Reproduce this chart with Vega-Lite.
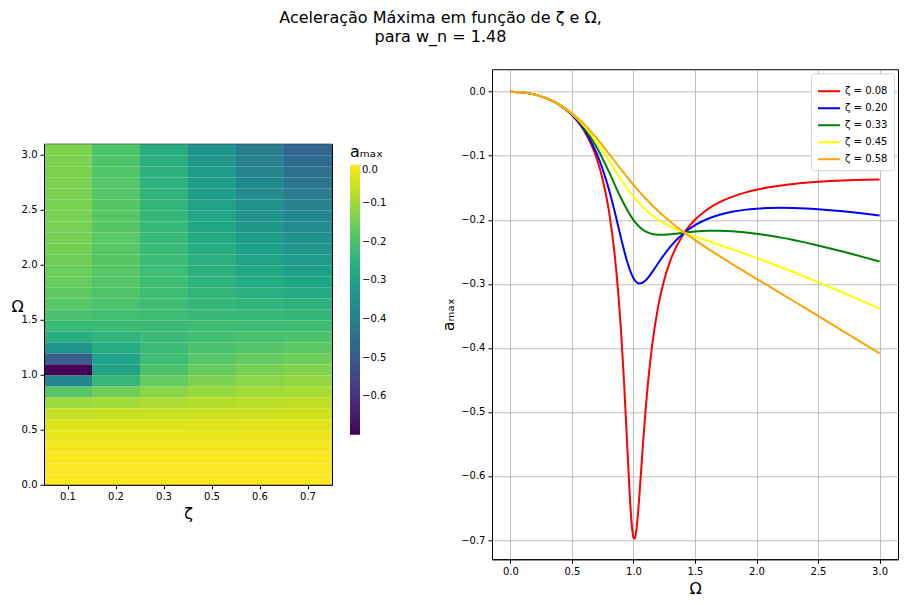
{
  "$schema": "https://vega.github.io/schema/vega-lite/v6.json",
  "padding": {"left": 10, "top": 9, "right": 5, "bottom": 0},
  "background": "white",
  "title": {
    "text": ["Aceleração Máxima em função de ζ e Ω,", "para w_n = 1.48"],
    "fontSize": 16,
    "fontWeight": "normal",
    "anchor": "middle",
    "dx": -14,
    "offset": 24,
    "lineHeight": 19
  },
  "datasets": {
    "amax": [
      {"zeta": 0.08, "omega": 0, "a_max": 0, "kind": "grid"},
      {"zeta": 0.08, "omega": 0.1, "a_max": -0.0011, "kind": "grid"},
      {"zeta": 0.08, "omega": 0.2, "a_max": -0.00458, "kind": "grid"},
      {"zeta": 0.08, "omega": 0.3, "a_max": -0.01088, "kind": "grid"},
      {"zeta": 0.08, "omega": 0.4, "a_max": -0.02094, "kind": "grid"},
      {"zeta": 0.08, "omega": 0.5, "a_max": -0.03658, "kind": "grid"},
      {"zeta": 0.08, "omega": 0.6, "a_max": -0.06147, "kind": "grid"},
      {"zeta": 0.08, "omega": 0.7, "a_max": -0.10387, "kind": "grid"},
      {"zeta": 0.08, "omega": 0.8, "a_max": -0.18576, "kind": "grid"},
      {"zeta": 0.08, "omega": 0.9, "a_max": -0.37759, "kind": "grid"},
      {"zeta": 0.08, "omega": 1.0, "a_max": -0.69625, "kind": "grid"},
      {"zeta": 0.08, "omega": 1.1, "a_max": -0.49323, "kind": "grid"},
      {"zeta": 0.08, "omega": 1.2, "a_max": -0.33598, "kind": "grid"},
      {"zeta": 0.08, "omega": 1.3, "a_max": -0.26347, "kind": "grid"},
      {"zeta": 0.08, "omega": 1.4, "a_max": -0.22413, "kind": "grid"},
      {"zeta": 0.08, "omega": 1.5, "a_max": -0.19997, "kind": "grid"},
      {"zeta": 0.08, "omega": 1.6, "a_max": -0.18388, "kind": "grid"},
      {"zeta": 0.08, "omega": 1.7, "a_max": -0.17253, "kind": "grid"},
      {"zeta": 0.08, "omega": 1.8, "a_max": -0.16422, "kind": "grid"},
      {"zeta": 0.08, "omega": 1.9, "a_max": -0.15795, "kind": "grid"},
      {"zeta": 0.08, "omega": 2.0, "a_max": -0.15312, "kind": "grid"},
      {"zeta": 0.08, "omega": 2.1, "a_max": -0.14935, "kind": "grid"},
      {"zeta": 0.08, "omega": 2.2, "a_max": -0.14637, "kind": "grid"},
      {"zeta": 0.08, "omega": 2.3, "a_max": -0.14401, "kind": "grid"},
      {"zeta": 0.08, "omega": 2.4, "a_max": -0.14212, "kind": "grid"},
      {"zeta": 0.08, "omega": 2.5, "a_max": -0.14063, "kind": "grid"},
      {"zeta": 0.08, "omega": 2.6, "a_max": -0.13946, "kind": "grid"},
      {"zeta": 0.08, "omega": 2.7, "a_max": -0.13855, "kind": "grid"},
      {"zeta": 0.08, "omega": 2.8, "a_max": -0.13786, "kind": "grid"},
      {"zeta": 0.08, "omega": 2.9, "a_max": -0.13736, "kind": "grid"},
      {"zeta": 0.08, "omega": 3.0, "a_max": -0.13702, "kind": "grid"},
      {"zeta": 0.08, "omega": 0.75, "a_max": -0.13737, "kind": "fine"},
      {"zeta": 0.08, "omega": 0.85, "a_max": -0.25954, "kind": "fine"},
      {"zeta": 0.08, "omega": 0.88, "a_max": -0.32348, "kind": "fine"},
      {"zeta": 0.08, "omega": 0.92, "a_max": -0.44234, "kind": "fine"},
      {"zeta": 0.08, "omega": 0.94, "a_max": -0.51681, "kind": "fine"},
      {"zeta": 0.08, "omega": 0.96, "a_max": -0.59475, "kind": "fine"},
      {"zeta": 0.08, "omega": 0.98, "a_max": -0.66121, "kind": "fine"},
      {"zeta": 0.08, "omega": 0.99, "a_max": -0.68373, "kind": "fine"},
      {"zeta": 0.08, "omega": 1.01, "a_max": -0.698, "kind": "fine"},
      {"zeta": 0.08, "omega": 1.02, "a_max": -0.68971, "kind": "fine"},
      {"zeta": 0.08, "omega": 1.04, "a_max": -0.6508, "kind": "fine"},
      {"zeta": 0.08, "omega": 1.06, "a_max": -0.59736, "kind": "fine"},
      {"zeta": 0.08, "omega": 1.08, "a_max": -0.54276, "kind": "fine"},
      {"zeta": 0.08, "omega": 1.15, "a_max": -0.39837, "kind": "fine"},
      {"zeta": 0.08, "omega": 1.25, "a_max": -0.2936, "kind": "fine"},
      {"zeta": 0.204, "omega": 0, "a_max": 0, "kind": "grid"},
      {"zeta": 0.204, "omega": 0.1, "a_max": -0.0011, "kind": "grid"},
      {"zeta": 0.204, "omega": 0.2, "a_max": -0.00458, "kind": "grid"},
      {"zeta": 0.204, "omega": 0.3, "a_max": -0.01086, "kind": "grid"},
      {"zeta": 0.204, "omega": 0.4, "a_max": -0.02084, "kind": "grid"},
      {"zeta": 0.204, "omega": 0.5, "a_max": -0.03611, "kind": "grid"},
      {"zeta": 0.204, "omega": 0.6, "a_max": -0.0595, "kind": "grid"},
      {"zeta": 0.204, "omega": 0.7, "a_max": -0.0959, "kind": "grid"},
      {"zeta": 0.204, "omega": 0.8, "a_max": -0.1524, "kind": "grid"},
      {"zeta": 0.204, "omega": 0.9, "a_max": -0.22958, "kind": "grid"},
      {"zeta": 0.204, "omega": 1.0, "a_max": -0.29119, "kind": "grid"},
      {"zeta": 0.204, "omega": 1.1, "a_max": -0.29443, "kind": "grid"},
      {"zeta": 0.204, "omega": 1.2, "a_max": -0.26793, "kind": "grid"},
      {"zeta": 0.204, "omega": 1.3, "a_max": -0.24179, "kind": "grid"},
      {"zeta": 0.204, "omega": 1.4, "a_max": -0.22227, "kind": "grid"},
      {"zeta": 0.204, "omega": 1.5, "a_max": -0.20849, "kind": "grid"},
      {"zeta": 0.204, "omega": 1.6, "a_max": -0.19886, "kind": "grid"},
      {"zeta": 0.204, "omega": 1.7, "a_max": -0.19217, "kind": "grid"},
      {"zeta": 0.204, "omega": 1.8, "a_max": -0.18758, "kind": "grid"},
      {"zeta": 0.204, "omega": 1.9, "a_max": -0.18454, "kind": "grid"},
      {"zeta": 0.204, "omega": 2.0, "a_max": -0.18266, "kind": "grid"},
      {"zeta": 0.204, "omega": 2.1, "a_max": -0.18169, "kind": "grid"},
      {"zeta": 0.204, "omega": 2.2, "a_max": -0.18142, "kind": "grid"},
      {"zeta": 0.204, "omega": 2.3, "a_max": -0.18172, "kind": "grid"},
      {"zeta": 0.204, "omega": 2.4, "a_max": -0.18248, "kind": "grid"},
      {"zeta": 0.204, "omega": 2.5, "a_max": -0.18362, "kind": "grid"},
      {"zeta": 0.204, "omega": 2.6, "a_max": -0.18509, "kind": "grid"},
      {"zeta": 0.204, "omega": 2.7, "a_max": -0.18683, "kind": "grid"},
      {"zeta": 0.204, "omega": 2.8, "a_max": -0.18881, "kind": "grid"},
      {"zeta": 0.204, "omega": 2.9, "a_max": -0.19099, "kind": "grid"},
      {"zeta": 0.204, "omega": 3.0, "a_max": -0.19334, "kind": "grid"},
      {"zeta": 0.204, "omega": 0.85, "a_max": -0.18939, "kind": "fine"},
      {"zeta": 0.204, "omega": 0.95, "a_max": -0.2664, "kind": "fine"},
      {"zeta": 0.204, "omega": 1.05, "a_max": -0.29952, "kind": "fine"},
      {"zeta": 0.204, "omega": 1.15, "a_max": -0.28224, "kind": "fine"},
      {"zeta": 0.328, "omega": 0, "a_max": 0, "kind": "grid"},
      {"zeta": 0.328, "omega": 0.1, "a_max": -0.0011, "kind": "grid"},
      {"zeta": 0.328, "omega": 0.2, "a_max": -0.00458, "kind": "grid"},
      {"zeta": 0.328, "omega": 0.3, "a_max": -0.01084, "kind": "grid"},
      {"zeta": 0.328, "omega": 0.4, "a_max": -0.02068, "kind": "grid"},
      {"zeta": 0.328, "omega": 0.5, "a_max": -0.03536, "kind": "grid"},
      {"zeta": 0.328, "omega": 0.6, "a_max": -0.05664, "kind": "grid"},
      {"zeta": 0.328, "omega": 0.7, "a_max": -0.08643, "kind": "grid"},
      {"zeta": 0.328, "omega": 0.8, "a_max": -0.12493, "kind": "grid"},
      {"zeta": 0.328, "omega": 0.9, "a_max": -0.16683, "kind": "grid"},
      {"zeta": 0.328, "omega": 1.0, "a_max": -0.20054, "kind": "grid"},
      {"zeta": 0.328, "omega": 1.1, "a_max": -0.2184, "kind": "grid"},
      {"zeta": 0.328, "omega": 1.2, "a_max": -0.22354, "kind": "grid"},
      {"zeta": 0.328, "omega": 1.3, "a_max": -0.22272, "kind": "grid"},
      {"zeta": 0.328, "omega": 1.4, "a_max": -0.22034, "kind": "grid"},
      {"zeta": 0.328, "omega": 1.5, "a_max": -0.21827, "kind": "grid"},
      {"zeta": 0.328, "omega": 1.6, "a_max": -0.21712, "kind": "grid"},
      {"zeta": 0.328, "omega": 1.7, "a_max": -0.21699, "kind": "grid"},
      {"zeta": 0.328, "omega": 1.8, "a_max": -0.21779, "kind": "grid"},
      {"zeta": 0.328, "omega": 1.9, "a_max": -0.21939, "kind": "grid"},
      {"zeta": 0.328, "omega": 2.0, "a_max": -0.22168, "kind": "grid"},
      {"zeta": 0.328, "omega": 2.1, "a_max": -0.22453, "kind": "grid"},
      {"zeta": 0.328, "omega": 2.2, "a_max": -0.22787, "kind": "grid"},
      {"zeta": 0.328, "omega": 2.3, "a_max": -0.23162, "kind": "grid"},
      {"zeta": 0.328, "omega": 2.4, "a_max": -0.23571, "kind": "grid"},
      {"zeta": 0.328, "omega": 2.5, "a_max": -0.2401, "kind": "grid"},
      {"zeta": 0.328, "omega": 2.6, "a_max": -0.24474, "kind": "grid"},
      {"zeta": 0.328, "omega": 2.7, "a_max": -0.2496, "kind": "grid"},
      {"zeta": 0.328, "omega": 2.8, "a_max": -0.25466, "kind": "grid"},
      {"zeta": 0.328, "omega": 2.9, "a_max": -0.25989, "kind": "grid"},
      {"zeta": 0.328, "omega": 3.0, "a_max": -0.26527, "kind": "grid"},
      {"zeta": 0.452, "omega": 0, "a_max": 0, "kind": "grid"},
      {"zeta": 0.452, "omega": 0.1, "a_max": -0.0011, "kind": "grid"},
      {"zeta": 0.452, "omega": 0.2, "a_max": -0.00458, "kind": "grid"},
      {"zeta": 0.452, "omega": 0.3, "a_max": -0.0108, "kind": "grid"},
      {"zeta": 0.452, "omega": 0.4, "a_max": -0.02047, "kind": "grid"},
      {"zeta": 0.452, "omega": 0.5, "a_max": -0.03446, "kind": "grid"},
      {"zeta": 0.452, "omega": 0.6, "a_max": -0.0537, "kind": "grid"},
      {"zeta": 0.452, "omega": 0.7, "a_max": -0.07848, "kind": "grid"},
      {"zeta": 0.452, "omega": 0.8, "a_max": -0.10755, "kind": "grid"},
      {"zeta": 0.452, "omega": 0.9, "a_max": -0.13748, "kind": "grid"},
      {"zeta": 0.452, "omega": 1.0, "a_max": -0.16403, "kind": "grid"},
      {"zeta": 0.452, "omega": 1.1, "a_max": -0.18469, "kind": "grid"},
      {"zeta": 0.452, "omega": 1.2, "a_max": -0.19964, "kind": "grid"},
      {"zeta": 0.452, "omega": 1.3, "a_max": -0.2105, "kind": "grid"},
      {"zeta": 0.452, "omega": 1.4, "a_max": -0.21892, "kind": "grid"},
      {"zeta": 0.452, "omega": 1.5, "a_max": -0.22611, "kind": "grid"},
      {"zeta": 0.452, "omega": 1.6, "a_max": -0.23276, "kind": "grid"},
      {"zeta": 0.452, "omega": 1.7, "a_max": -0.23928, "kind": "grid"},
      {"zeta": 0.452, "omega": 1.8, "a_max": -0.24586, "kind": "grid"},
      {"zeta": 0.452, "omega": 1.9, "a_max": -0.2526, "kind": "grid"},
      {"zeta": 0.452, "omega": 2.0, "a_max": -0.25954, "kind": "grid"},
      {"zeta": 0.452, "omega": 2.1, "a_max": -0.2667, "kind": "grid"},
      {"zeta": 0.452, "omega": 2.2, "a_max": -0.27406, "kind": "grid"},
      {"zeta": 0.452, "omega": 2.3, "a_max": -0.28162, "kind": "grid"},
      {"zeta": 0.452, "omega": 2.4, "a_max": -0.28935, "kind": "grid"},
      {"zeta": 0.452, "omega": 2.5, "a_max": -0.29726, "kind": "grid"},
      {"zeta": 0.452, "omega": 2.6, "a_max": -0.30531, "kind": "grid"},
      {"zeta": 0.452, "omega": 2.7, "a_max": -0.3135, "kind": "grid"},
      {"zeta": 0.452, "omega": 2.8, "a_max": -0.32181, "kind": "grid"},
      {"zeta": 0.452, "omega": 2.9, "a_max": -0.33024, "kind": "grid"},
      {"zeta": 0.452, "omega": 3.0, "a_max": -0.33876, "kind": "grid"},
      {"zeta": 0.576, "omega": 0, "a_max": 0, "kind": "grid"},
      {"zeta": 0.576, "omega": 0.1, "a_max": -0.0011, "kind": "grid"},
      {"zeta": 0.576, "omega": 0.2, "a_max": -0.00457, "kind": "grid"},
      {"zeta": 0.576, "omega": 0.3, "a_max": -0.01076, "kind": "grid"},
      {"zeta": 0.576, "omega": 0.4, "a_max": -0.02023, "kind": "grid"},
      {"zeta": 0.576, "omega": 0.5, "a_max": -0.03356, "kind": "grid"},
      {"zeta": 0.576, "omega": 0.6, "a_max": -0.0511, "kind": "grid"},
      {"zeta": 0.576, "omega": 0.7, "a_max": -0.07257, "kind": "grid"},
      {"zeta": 0.576, "omega": 0.8, "a_max": -0.09676, "kind": "grid"},
      {"zeta": 0.576, "omega": 0.9, "a_max": -0.12176, "kind": "grid"},
      {"zeta": 0.576, "omega": 1.0, "a_max": -0.14566, "kind": "grid"},
      {"zeta": 0.576, "omega": 1.1, "a_max": -0.16727, "kind": "grid"},
      {"zeta": 0.576, "omega": 1.2, "a_max": -0.18629, "kind": "grid"},
      {"zeta": 0.576, "omega": 1.3, "a_max": -0.20302, "kind": "grid"},
      {"zeta": 0.576, "omega": 1.4, "a_max": -0.21799, "kind": "grid"},
      {"zeta": 0.576, "omega": 1.5, "a_max": -0.23169, "kind": "grid"},
      {"zeta": 0.576, "omega": 1.6, "a_max": -0.24455, "kind": "grid"},
      {"zeta": 0.576, "omega": 1.7, "a_max": -0.25684, "kind": "grid"},
      {"zeta": 0.576, "omega": 1.8, "a_max": -0.26879, "kind": "grid"},
      {"zeta": 0.576, "omega": 1.9, "a_max": -0.28054, "kind": "grid"},
      {"zeta": 0.576, "omega": 2.0, "a_max": -0.29216, "kind": "grid"},
      {"zeta": 0.576, "omega": 2.1, "a_max": -0.30372, "kind": "grid"},
      {"zeta": 0.576, "omega": 2.2, "a_max": -0.31527, "kind": "grid"},
      {"zeta": 0.576, "omega": 2.3, "a_max": -0.32683, "kind": "grid"},
      {"zeta": 0.576, "omega": 2.4, "a_max": -0.33841, "kind": "grid"},
      {"zeta": 0.576, "omega": 2.5, "a_max": -0.35002, "kind": "grid"},
      {"zeta": 0.576, "omega": 2.6, "a_max": -0.36168, "kind": "grid"},
      {"zeta": 0.576, "omega": 2.7, "a_max": -0.37337, "kind": "grid"},
      {"zeta": 0.576, "omega": 2.8, "a_max": -0.38511, "kind": "grid"},
      {"zeta": 0.576, "omega": 2.9, "a_max": -0.39689, "kind": "grid"},
      {"zeta": 0.576, "omega": 3.0, "a_max": -0.40872, "kind": "grid"},
      {"zeta": 0.7, "omega": 0, "a_max": 0, "kind": "grid"},
      {"zeta": 0.7, "omega": 0.1, "a_max": -0.0011, "kind": "grid"},
      {"zeta": 0.7, "omega": 0.2, "a_max": -0.00457, "kind": "grid"},
      {"zeta": 0.7, "omega": 0.3, "a_max": -0.01071, "kind": "grid"},
      {"zeta": 0.7, "omega": 0.4, "a_max": -0.01998, "kind": "grid"},
      {"zeta": 0.7, "omega": 0.5, "a_max": -0.03272, "kind": "grid"},
      {"zeta": 0.7, "omega": 0.6, "a_max": -0.04897, "kind": "grid"},
      {"zeta": 0.7, "omega": 0.7, "a_max": -0.06831, "kind": "grid"},
      {"zeta": 0.7, "omega": 0.8, "a_max": -0.08985, "kind": "grid"},
      {"zeta": 0.7, "omega": 0.9, "a_max": -0.11248, "kind": "grid"},
      {"zeta": 0.7, "omega": 1.0, "a_max": -0.13518, "kind": "grid"},
      {"zeta": 0.7, "omega": 1.1, "a_max": -0.15724, "kind": "grid"},
      {"zeta": 0.7, "omega": 1.2, "a_max": -0.17832, "kind": "grid"},
      {"zeta": 0.7, "omega": 1.3, "a_max": -0.19834, "kind": "grid"},
      {"zeta": 0.7, "omega": 1.4, "a_max": -0.21737, "kind": "grid"},
      {"zeta": 0.7, "omega": 1.5, "a_max": -0.23556, "kind": "grid"},
      {"zeta": 0.7, "omega": 1.6, "a_max": -0.25307, "kind": "grid"},
      {"zeta": 0.7, "omega": 1.7, "a_max": -0.27003, "kind": "grid"},
      {"zeta": 0.7, "omega": 1.8, "a_max": -0.28658, "kind": "grid"},
      {"zeta": 0.7, "omega": 1.9, "a_max": -0.30281, "kind": "grid"},
      {"zeta": 0.7, "omega": 2.0, "a_max": -0.31879, "kind": "grid"},
      {"zeta": 0.7, "omega": 2.1, "a_max": -0.33458, "kind": "grid"},
      {"zeta": 0.7, "omega": 2.2, "a_max": -0.35023, "kind": "grid"},
      {"zeta": 0.7, "omega": 2.3, "a_max": -0.36577, "kind": "grid"},
      {"zeta": 0.7, "omega": 2.4, "a_max": -0.38123, "kind": "grid"},
      {"zeta": 0.7, "omega": 2.5, "a_max": -0.39662, "kind": "grid"},
      {"zeta": 0.7, "omega": 2.6, "a_max": -0.41196, "kind": "grid"},
      {"zeta": 0.7, "omega": 2.7, "a_max": -0.42727, "kind": "grid"},
      {"zeta": 0.7, "omega": 2.8, "a_max": -0.44255, "kind": "grid"},
      {"zeta": 0.7, "omega": 2.9, "a_max": -0.4578, "kind": "grid"},
      {"zeta": 0.7, "omega": 3.0, "a_max": -0.47305, "kind": "grid"}
    ]
  },
  "data": {"name": "amax"},
  "spacing": 52,
  "center": true,
  "hconcat": [
    {
      "width": 288,
      "height": 341,
      "transform": [{"filter": "datum.kind == 'grid'"}],
      "mark": {"type": "rect", "binSpacing": 0},
      "encoding": {
        "x": {
          "field": "zeta",
          "type": "ordinal",
          "title": "ζ",
          "scale": {"paddingInner": 0, "paddingOuter": 0},
          "axis": {"format": ".1f", "labelAngle": 0}
        },
        "y": {
          "field": "omega",
          "type": "quantitative",
          "bin": {"binned": true, "step": 0.1},
          "title": "Ω",
          "scale": {"domain": [0, 3.1], "nice": false},
          "axis": {"values": [0, 0.5, 1, 1.5, 2, 2.5, 3], "format": ".1f", "grid": false, "titleAngle": 0}
        },
        "color": {
          "field": "a_max",
          "type": "quantitative",
          "scale": {"scheme": "viridis", "domain": [-0.7, 0]},
          "legend": {
            "type": "gradient",
            "title": "aₘₐₓ",
            "titleFontSize": 16,
            "titleFontWeight": "normal",
            "labelFontSize": 10,
            "gradientLength": 270,
            "gradientThickness": 10,
            "values": [0, -0.1, -0.2, -0.3, -0.4, -0.5, -0.6],
            "format": ".1f"
          }
        }
      }
    },
    {
      "width": 406,
      "height": 490,
      "transform": [{"filter": "datum.zeta < 0.7"}],
      "mark": {"type": "line", "strokeWidth": 2, "interpolate": "monotone"},
      "encoding": {
        "x": {
          "field": "omega",
          "type": "quantitative",
          "title": "Ω",
          "scale": {"domain": [-0.15, 3.15], "nice": false, "zero": false},
          "axis": {"values": [0, 0.5, 1, 1.5, 2, 2.5, 3], "format": ".1f", "grid": true}
        },
        "y": {
          "field": "a_max",
          "type": "quantitative",
          "title": "aₘₐₓ",
          "scale": {"domain": [-0.73, 0.035], "nice": false, "zero": false},
          "axis": {"values": [0, -0.1, -0.2, -0.3, -0.4, -0.5, -0.6, -0.7], "format": ".1f", "grid": true}
        },
        "color": {
          "field": "zeta",
          "type": "nominal",
          "scale": {
            "domain": [0.08, 0.204, 0.328, 0.452, 0.576],
            "range": ["red", "blue", "green", "yellow", "orange"]
          },
          "legend": {
            "title": null,
            "orient": "top-right",
            "offset": 4,
            "labelExpr": "'ζ = ' + format(datum.value, '.2f')",
            "labelFontSize": 10,
            "symbolType": "stroke",
            "symbolSize": 484,
            "symbolStrokeWidth": 2,
            "fillColor": "white",
            "strokeColor": "#d6d6d6",
            "padding": 6,
            "cornerRadius": 3,
            "rowPadding": 0
          }
        }
      }
    }
  ],
  "resolve": {
    "scale": {"color": "independent"},
    "legend": {"color": "independent"}
  },
  "config": {
    "font": "DejaVu Sans",
    "view": {"stroke": "black", "strokeWidth": 1},
    "axis": {
      "labelFontSize": 10,
      "labelColor": "black",
      "tickColor": "black",
      "domainColor": "black",
      "titleFontSize": 16,
      "titleFontWeight": "normal",
      "titleColor": "black",
      "gridColor": "#b0b0b0",
      "gridWidth": 0.8,
      "tickSize": 4,
      "labelPadding": 3
    },
    "legend": {"labelColor": "black", "titleColor": "black"}
  }
}
